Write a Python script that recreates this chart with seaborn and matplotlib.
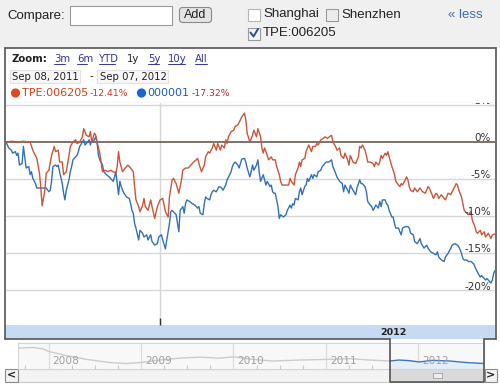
import numpy as np
import pandas as pd
import matplotlib
matplotlib.use("Agg")
import matplotlib.pyplot as plt
import matplotlib.transforms as mtransforms
from matplotlib.patches import Rectangle, FancyBboxPatch, Circle
import seaborn as sns

# ---------------- data ----------------
start_date = pd.Timestamp("2011-09-08")
end_date = pd.Timestamp("2012-09-07")

# (days since 2011-09-08, % change)
tpe_points = [(0,0.0),(4,0.1),(9,0.0),(13,0.1),(18,0.0),(20,-1.1),(23,-2.2),(25,-4.2),(26,-6.2),(27,-8.6),
    (29,-6.5),(30,-4.2),(32,-3.8),(34,-1.8),(36,-0.6),(37,-1.3),(39,-1.1),(40,-2.7),(42,-2.7),(43,-4.4),
    (45,-4.0),(47,-1.8),(48,-0.6),(50,0.0),(52,0.3),(53,-0.2),(55,0.0),(57,0.7),(58,1.8),(60,0.9),
    (62,0.7),(63,1.4),(64,0.0),(66,1.2),(67,0.9),(68,0.0),(70,-1.5),(71,-2.7),(72,-4.0),(74,-3.8),
    (76,-4.0),(78,-3.8),(80,-4.0),(82,-4.2),(83,-3.3),(84,-1.3),(85,-2.7),(87,-4.0),(89,-3.5),(91,-3.1),
    (93,-3.5),(95,-4.0),(96,-6.0),(97,-7.8),(99,-8.7),(100,-9.4),(102,-8.5),(103,-7.6),(104,-8.7),(106,-9.2),
    (108,-7.8),(109,-8.7),(111,-10.3),(113,-8.7),(115,-7.8),(117,-7.6),(119,-9.4),(121,-10.1),(122,-7.4),(124,-5.1),
    (125,-4.9),(127,-5.6),(129,-6.9),(131,-5.1),(132,-3.8),(134,-3.5),(136,-3.5),(138,-3.1),(140,-2.7),(142,-2.4),
    (143,-2.2),(145,-3.5),(146,-4.0),(148,-3.1),(149,-2.0),(151,-1.3),(152,-1.5),(154,-0.8),(155,-0.2),(157,-1.1),
    (158,-0.2),(160,-1.1),(161,-0.4),(163,-0.8),(164,0.3),(165,-0.2),(166,0.7),(168,1.4),(170,1.6),(171,2.1),
    (173,2.3),(175,3.0),(176,3.4),(178,3.9),(179,3.0),(180,1.2),(182,0.0),(184,0.9),(185,1.6),(187,0.7),
    (188,1.8),(190,0.7),(191,-0.8),(192,-1.5),(193,-0.8),(195,-1.8),(196,-2.4),(198,-2.0),(199,-2.4),(201,-2.4),
    (202,-3.3),(204,-4.4),(205,-5.3),(206,-5.8),(208,-5.8),(210,-5.8),(211,-5.8),(212,-4.9),(213,-5.3),(215,-5.8),
    (216,-4.4),(218,-3.5),(219,-2.7),(220,-3.3),(221,-2.4),(223,-2.2),(224,-1.3),(225,-0.8),(226,-0.4),(228,-1.3),
    (229,-0.6),(231,-0.6),(232,-0.2),(233,-0.4),(235,0.3),(237,0.5),(238,0.7),(240,0.5),(242,0.8),(243,0.9),
    (244,0.0),(246,-0.6),(247,-1.1),(249,-0.8),(250,-1.8),(252,-2.2),(253,-1.5),(255,-2.4),(256,-3.1),(257,-1.8),
    (259,-2.7),(261,-2.9),(263,-2.0),(264,-0.6),(265,-0.8),(266,-0.4),(268,-1.1),(269,-1.8),(270,-2.7),(272,-2.7),
    (274,-2.9),(275,-3.3),(276,-2.7),(278,-3.1),(279,-2.7),(280,-1.8),(281,-2.2),(283,-1.5),(284,-1.8),(285,-1.3),
    (286,-2.0),(288,-3.3),(289,-3.8),(290,-4.4),(291,-5.3),(293,-5.8),(294,-6.0),(295,-5.6),(296,-5.8),(298,-5.1),
    (299,-4.7),(300,-5.1),(301,-6.0),(302,-6.5),(304,-6.7),(305,-6.2),(307,-6.7),(309,-6.2),(311,-6.7),(313,-6.9),
    (315,-6.0),(316,-6.2),(318,-7.1),(319,-7.6),(321,-6.9),(322,-7.1),(323,-7.6),(325,-7.1),(327,-7.6),(328,-7.8),
    (330,-6.9),(332,-7.1),(333,-6.7),(335,-6.0),(336,-5.6),(337,-5.8),(338,-6.5),(340,-7.4),(341,-8.3),(342,-9.2),
    (343,-9.4),(345,-9.8),(347,-9.4),(348,-10.5),(350,-11.4),(351,-12.1),(352,-12.3),(354,-11.9),(355,-12.5),(357,-12.1),
    (358,-12.8),(360,-12.3),(362,-13.0),(363,-12.5),(365,-12.4)]

sse_points = [(0,0.0),(2,-0.8),(4,-1.1),(5,-1.5),(7,-1.3),(8,-1.8),(9,-1.5),(10,-3.1),(12,-2.9),(13,-0.6),
    (14,-2.0),(15,-3.5),(17,-3.3),(18,-4.4),(19,-4.0),(20,-4.9),(22,-5.6),(23,-6.2),(25,-6.2),(27,-6.2),
    (28,-6.2),(30,-6.2),(32,-6.7),(33,-6.5),(34,-5.3),(35,-3.3),(37,-3.1),(38,-3.3),(39,-3.1),(40,-4.0),
    (42,-5.6),(43,-6.9),(44,-7.8),(45,-6.5),(47,-5.1),(48,-4.0),(49,-3.3),(50,-2.4),(52,-2.0),(53,-1.8),
    (54,-1.3),(55,-0.6),(57,0.0),(58,0.3),(59,-0.4),(61,0.0),(62,0.3),(63,-0.4),(64,0.3),(65,0.0),
    (67,0.7),(68,-0.2),(69,-1.8),(70,-2.4),(72,-3.1),(73,-4.0),(74,-4.2),(75,-4.4),(77,-4.7),(78,-4.9),
    (79,-5.1),(80,-5.3),(81,-4.7),(82,-4.0),(84,-7.1),(85,-5.3),(86,-6.0),(88,-6.9),(90,-7.4),(92,-7.6),
    (93,-8.3),(94,-9.2),(95,-9.6),(96,-11.0),(97,-11.6),(99,-13.2),(100,-11.9),(102,-12.3),(103,-12.8),(105,-12.5),
    (106,-13.2),(108,-12.5),(109,-13.4),(111,-13.9),(113,-13.7),(114,-12.8),(116,-12.5),(117,-13.2),(119,-14.4),(120,-13.2),
    (122,-11.0),(123,-9.4),(124,-9.2),(126,-9.6),(127,-9.8),(129,-12.1),(130,-9.2),(132,-8.7),(133,-9.6),(134,-8.3),
    (135,-7.8),(137,-8.0),(139,-8.3),(141,-8.5),(143,-8.9),(144,-8.7),(145,-9.6),(147,-9.8),(148,-8.3),(149,-7.4),
    (150,-7.6),(152,-7.8),(153,-7.1),(154,-6.7),(155,-6.5),(157,-6.7),(159,-6.0),(161,-6.2),(162,-6.5),(164,-5.8),
    (165,-5.1),(167,-4.4),(168,-4.0),(169,-3.3),(170,-2.9),(171,-2.7),(173,-3.1),(174,-3.5),(175,-2.9),(176,-2.3),
    (178,-2.2),(179,-2.7),(180,-3.5),(182,-4.7),(183,-4.0),(184,-3.1),(185,-3.8),(187,-3.1),(188,-2.4),(189,-4.0),
    (190,-5.3),(192,-4.4),(193,-5.1),(194,-5.8),(195,-5.3),(197,-6.0),(198,-5.8),(199,-6.7),(200,-6.9),(201,-6.9),
    (203,-8.7),(204,-10.3),(205,-9.8),(207,-10.1),(209,-9.8),(210,-9.2),(212,-8.5),(213,-8.9),(214,-8.3),(215,-8.5),
    (216,-7.6),(218,-7.8),(219,-6.7),(220,-6.2),(221,-7.1),(223,-6.0),(224,-5.8),(225,-4.9),(226,-5.3),(228,-4.4),
    (229,-4.9),(230,-4.4),(232,-4.7),(233,-4.0),(235,-3.8),(236,-3.3),(238,-2.9),(239,-2.7),(241,-2.7),(243,-2.4),
    (244,-3.3),(246,-4.2),(247,-4.7),(249,-5.3),(251,-5.6),(252,-6.7),(253,-5.8),(255,-6.5),(256,-6.9),(257,-5.8),
    (259,-6.5),(261,-7.1),(262,-6.2),(264,-5.1),(265,-5.6),(266,-5.6),(268,-6.0),(269,-6.7),(270,-8.0),(271,-8.3),
    (273,-8.7),(274,-9.2),(275,-8.9),(276,-8.5),(278,-8.9),(279,-8.0),(280,-8.7),(281,-7.8),(283,-7.8),(284,-8.3),
    (285,-8.5),(286,-9.2),(288,-10.1),(289,-10.1),(290,-11.0),(291,-11.6),(293,-11.6),(294,-12.1),(295,-12.5),(296,-11.6),
    (298,-11.4),(300,-11.4),(301,-11.6),(302,-12.3),(304,-12.5),(305,-13.4),(307,-13.7),(309,-13.0),(310,-13.7),(312,-14.3),
    (314,-13.9),(315,-14.3),(317,-14.8),(319,-15.0),(321,-15.2),(322,-14.8),(323,-15.5),(325,-15.9),(327,-16.1),(328,-15.5),
    (330,-15.0),(332,-14.3),(333,-13.9),(335,-13.7),(337,-13.9),(338,-14.1),(340,-15.0),(341,-15.7),(342,-15.9),(344,-15.9),
    (345,-16.1),(347,-16.1),(349,-16.4),(350,-16.8),(351,-17.2),(353,-17.9),(354,-18.2),(355,-18.0),(356,-18.2),(358,-18.6),
    (359,-18.4),(361,-18.8),(362,-19.0),(363,-18.6),(364,-17.7),(365,-17.3)]

series_names = ["000001", "TPE:006205"]
series_colors = ["#3470b6", "#c9553a"]
legend_changes = ["-17.32%", "-12.41%"]

y_ticks = [5, 0, -5, -10, -15, -20]
y_tick_labels = ["5%", "0%", "-5%", "-10%", "-15%", "-20%"]
band_label = "2012"

# long-range overview (navigator) series
nav_years = [2007.67, 2007.83, 2007.94, 2008.0, 2008.19, 2008.41, 2008.66, 2008.84, 2009.0, 2009.2,
             2009.42, 2009.63, 2009.85, 2010.0, 2010.21, 2010.42, 2010.71, 2011.03, 2011.25, 2011.47,
             2011.69, 2011.79, 2011.9, 2012.01, 2012.15, 2012.34, 2012.52, 2012.71]
nav_level = [4947, 5053, 4824, 4349, 3592, 2888, 2307, 2131, 2307, 2765,
             3117, 3293, 3117, 3363, 2888, 2589, 2765, 2888, 3011, 2765,
             2589, 2765, 2659, 2413, 2712, 2589, 2307, 2131]
nav_year_labels = ["2008", "2009", "2010", "2011", "2012"]
nav_sel_start = 2011.69

zoom_links = ["3m", "6m", "YTD", "1y", "5y", "10y", "All"]
date_from, date_to = "Sep 08, 2011", "Sep 07, 2012"

# ---------------- figure ----------------
sns.set_theme(style="white")
plt.rcParams["font.family"] = ["DejaVu Sans"]

W, H = 500, 386
fig = plt.figure(figsize=(5.0, 3.86), dpi=100)
fig.patch.set_facecolor("white")

def frect(x0, y0, x1, y1):
    return [x0 / W, 1 - y1 / H, (x1 - x0) / W, (y1 - y0) / H]

bg = fig.add_axes([0, 0, 1, 1], zorder=0)
bg.set_xlim(0, W); bg.set_ylim(H, 0); bg.axis("off")

fg = fig.add_axes([0, 0, 1, 1], zorder=5)
fg.set_xlim(0, W); fg.set_ylim(H, 0); fg.axis("off")
fg.patch.set_alpha(0)

arial = ["Liberation Sans", "DejaVu Sans"]

# header strip
bg.add_patch(Rectangle((0, 0), W, 47.5, fc="#f0f0f0", ec="none"))
bg.text(7, 15.5, "Compare:", family=arial, fontsize=9.5, color="#222", va="center")
bg.add_patch(Rectangle((70, 6), 102, 19, fc="white", ec="#9a9a9a", lw=0.8))
bg.add_patch(FancyBboxPatch((179.5, 7.5), 32, 15, boxstyle="round,pad=0,rounding_size=3",
                            fc="#e4e4e4", ec="#8a8a8a", lw=0.8))
bg.text(195.5, 15.5, "Add", family=arial, fontsize=9, color="#222", va="center", ha="center")
bg.add_patch(Rectangle((248, 8.5), 12, 12, fc="white", ec="#b5b5b5", lw=0.8))
bg.text(263, 14.5, "Shanghai", family=arial, fontsize=9.5, color="#222", va="center")
bg.add_patch(Rectangle((326, 8.5), 12, 12, fc="#ececec", ec="#9a9a9a", lw=0.8))
bg.text(341, 14.5, "Shenzhen", family=arial, fontsize=9.5, color="#222", va="center")
bg.add_patch(Rectangle((248, 27.5), 12, 12, fc="#f4f4f4", ec="#9a9a9a", lw=0.8))
bg.plot([250.5, 253.5, 258], [32.5, 36.5, 29], color="#2b4f8f", lw=1.4)
bg.text(263, 33.5, "TPE:006205", family=arial, fontsize=9.5, color="#222", va="center")
bg.text(448, 15.5, "« less", family=arial, fontsize=9.5, color="#3a6ea5", va="center")

# chart box background
bg.add_patch(Rectangle((5, 48), 490, 291, fc="white", ec="none"))

# zoom row
bg.text(12, 59, "Zoom:", fontsize=7.3, weight="bold", color="#222", va="center")
link_x = [54, 77, 99, 127, 148, 168, 195]
link_w = [11, 10, 16, 0, 11, 17, 12]
for lbl, lx, lw_ in zip(zoom_links, link_x, link_w):
    col = "#222" if lbl == "1y" else "#33339a"
    bg.text(lx, 59, lbl, fontsize=7.3, color=col, va="center")
    if lbl != "1y":
        bg.plot([lx, lx + lw_], [63.5, 63.5], color=col, lw=0.7)

# date range row
bg.add_patch(Rectangle((9.5, 70), 70, 13, fc="#f7f7f7", ec="#e2e2e2", lw=0.8))
bg.text(12, 76.5, date_from, fontsize=7.3, color="#222", va="center")
bg.text(89, 76.5, "-", fontsize=7.3, color="#222", va="center")
bg.add_patch(Rectangle((97, 70), 71, 13, fc="#f7f7f7", ec="#e2e2e2", lw=0.8))
bg.text(100, 76.5, date_to, fontsize=7.3, color="#222", va="center")

# legend row
bg.add_patch(Circle((15.5, 93), 4.6, fc="#dc4a1f", ec="none"))
bg.text(21.5, 93.5, series_names[1], fontsize=8, color="#d2401c", va="center")
bg.text(89.5, 94, legend_changes[1], fontsize=6.7, color="#c0392b", va="center")
bg.add_patch(Circle((141.5, 93), 4.6, fc="#1a66d1", ec="none"))
bg.text(147, 93.5, series_names[0], fontsize=8, color="#1a5fb4", va="center")
bg.text(191.5, 94, legend_changes[0], fontsize=6.7, color="#b03038", va="center")

bg.plot([5, 495], [102.5, 102.5], color="#cfcfcf", lw=0.9)

# blue year band
bg.add_patch(Rectangle((5, 325), 490, 14, fc="#c6dbf3", ec="none"))
bg.text(393, 332.5, band_label, fontsize=6.8, weight="bold", color="#222", va="center", ha="center")

# ---------------- main chart ----------------
rows = []
for name, pts in zip(["TPE:006205", "000001"], [tpe_points, sse_points]):
    for d, v in pts:
        rows.append({"date": start_date + pd.Timedelta(days=d), "pct": v, "series": name})
df = pd.DataFrame(rows)

ax = fig.add_axes(frect(6, 103, 495, 325), zorder=2)
ax.set_facecolor("white")
sns.lineplot(data=df, x="date", y="pct", hue="series", hue_order=series_names,
             palette=series_colors, estimator=None, lw=1.0, legend=False, ax=ax)
ax.set_xlim(start_date, end_date)
ax.set_ylim(-24.66, 5.26)
for v in y_ticks:
    if v != 0:
        ax.axhline(v, color="#d6d6d6", lw=1.0, zorder=0)
ax.axhline(0, color="#5a4a44", lw=1.1, zorder=1)
jan1 = pd.Timestamp("2012-01-01")
ax.axvline(jan1, color="#d6d6d6", lw=1.0, zorder=0)
ax.set_xticks([jan1]); ax.set_xticklabels([""])
ax.set_yticks([])
ax.tick_params(axis="x", direction="in", length=5, width=1.0, color="#333", bottom=True)
ax.set_xlabel(""); ax.set_ylabel("")
for s in ax.spines.values():
    s.set_visible(False)
trans = mtransforms.blended_transform_factory(ax.transAxes, ax.transData)
for v, lbl in zip(y_ticks, y_tick_labels):
    ax.text(0.992, v + 0.12, lbl, transform=trans, ha="right", va="baseline",
            fontsize=7.5, color="#333", clip_on=True, zorder=3)

# ---------------- navigator ----------------
nav = fig.add_axes(frect(18, 343, 484, 369), zorder=2)
nav.set_facecolor("#f8f8f8")
nav_df = pd.DataFrame({"year": nav_years, "level": nav_level})
old = nav_df[nav_df["year"] <= nav_sel_start]
new = nav_df[nav_df["year"] >= nav_sel_start]
nav.set_xlim(2007.67, 2012.71)
nav.set_ylim(1128, 5880)
nav.fill_between(new["year"], new["level"], 1128, color="#e3eefa", lw=0)
sns.lineplot(data=old, x="year", y="level", color="#cccccc", lw=1.0, ax=nav, estimator=None)
sns.lineplot(data=new, x="year", y="level", color="#3b78b5", lw=1.0, ax=nav, estimator=None)
for i, lbl in enumerate(nav_year_labels):
    yr = 2008 + i
    nav.axvline(yr, color="#dcdcdc", lw=0.9, zorder=0)
    nav.text(yr + 0.045, 0.3, lbl, transform=mtransforms.blended_transform_factory(nav.transData, nav.transAxes),
             fontsize=7.6, color="#a0a0a0", va="center")
quarters = [2007.75] + [y + q for y in range(2008, 2013) for q in (0.25, 0.5, 0.75)]
nav.set_xticks([q for q in quarters if q < 2012.7])
nav.set_xticklabels([])
nav.set_yticks([])
nav.tick_params(axis="x", direction="in", length=3, width=0.8, color="#c8c8c8", bottom=True)
nav.set_xlabel(""); nav.set_ylabel("")
for s in nav.spines.values():
    s.set_color("#d4d4d4"); s.set_linewidth(0.8)

# scrollbar
bg.add_patch(Rectangle((18, 369), 466, 13, fc="#f3f3f3", ec="#c8c8c8", lw=0.8))
bg.add_patch(Rectangle((390, 369), 94, 13, fc="#dadada", ec="none"))
bg.add_patch(Rectangle((433, 373), 9, 4.5, fc="#eeeeee", ec="#a0a0a0", lw=0.6))
bg.add_patch(Rectangle((4.5, 369), 13, 13, fc="#f2f2f2", ec="#8a8a8a", lw=0.8))
bg.add_patch(Rectangle((484.5, 369), 12.5, 13, fc="#f2f2f2", ec="#8a8a8a", lw=0.8))
bg.text(11, 375.8, "<", fontsize=8, weight="bold", color="#222", ha="center", va="center")
bg.text(490.8, 375.8, ">", fontsize=8, weight="bold", color="#222", ha="center", va="center")

# borders (chart box + selection window)
bc = "#555555"
fg.plot([5, 495.5], [48, 48], color=bc, lw=1.2)
fg.plot([5, 5], [48, 339], color=bc, lw=1.2)
fg.plot([495.5, 495.5], [48, 339], color=bc, lw=1.2)
fg.plot([5, 390], [339, 339], color=bc, lw=1.2)
fg.plot([484, 495.5], [339, 339], color=bc, lw=1.2)
fg.plot([390, 390, 484, 484], [339, 382, 382, 339], color=bc, lw=1.2)

fig.savefig("out.png", dpi=100, facecolor=fig.get_facecolor())
